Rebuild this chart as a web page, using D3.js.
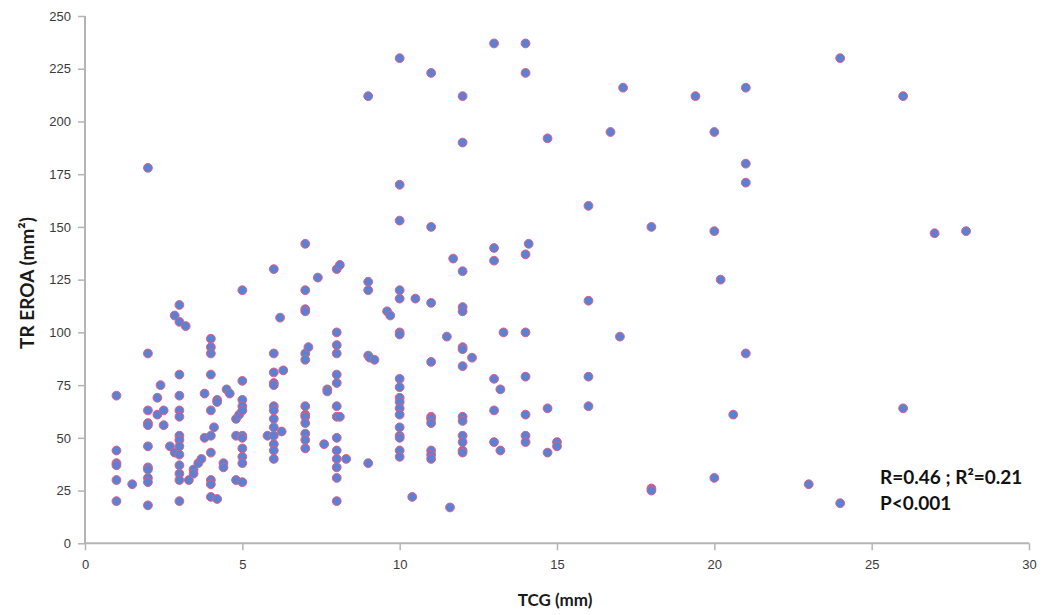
<!DOCTYPE html>
<html>
<head>
<meta charset="utf-8">
<script src="https://cdn.jsdelivr.net/npm/d3@7"></script>
<style>
  html, body { margin: 0; padding: 0; background: #fff; }
  svg { display: block; }
</style>
</head>
<body>
<svg id="chart" width="1042" height="615"></svg>
<script>
// TCG (mm) values
const tcg = [
  1,1,1,1,1,1,
  1.5,
  2,2,2,2,2,2,2,2,2,2,2,
  2.3,2.3,2.4,2.5,2.5,2.7,2.85,2.85,
  3,3,3,3,3,3,3,3,3,3,3,3,3,3,
  3.2,3.3,3.45,3.45,3.6,3.7,3.8,3.8,
  4,4,4,4,4,4,4,4,4,4,
  4.1,4.2,4.2,4.2,4.4,4.4,4.5,4.6,4.8,4.8,4.8,4.9,
  5,5,5,5,5,5,5,5,5,5,5,
  5.8,
  6,6,6,6,6,6,6,6,6,6,6,6,6,
  6.2,6.3,6.25,
  7,7,7,7,7,7,7,7,7,7,7,7,7,
  7.1,7.4,7.6,7.7,7.7,
  8,8,8,8,8,8,8,8,8,8,8,8,8,8,
  8.1,8.1,8.3,
  9,9,9,9,9,9.05,9.2,9.6,9.7,
  10,10,10,10,10,10,10,10,10,10,10,10,10,10,10,10,10,10,
  10.4,10.5,
  11,11,11,11,11,11,11,11,11,11,
  11.5,11.6,11.7,
  12,12,12,12,12,12,12,12,12,12,12,12,12,12,
  12.3,
  13,13,13,13,13,13,13.2,13.2,13.3,
  14,14,14,14,14,14,14,14,14.1,
  14.7,14.7,14.7,15,15,
  16,16,16,16,16.7,17,17.1,
  18,18,18,19.4,20,20,20,20.2,20.6,
  21,21,21,21,23,24,24,26,26,27,28
];
// TR EROA (mm²) values
const eroa = [
  70,44,38,37,30,20,
  28,
  178,90,63,57,56,46,36,35,31,29,18,
  69,61,75,63,56,46,108,43,
  113,105,80,70,63,60,51,49,46,42,37,33,30,20,
  103,30,35,33,38,40,71,50,
  97,93,90,80,63,51,43,30,28,22,
  55,68,67,21,38,36,73,71,59,51,30,61,
  120,77,68,65,63,51,50,45,41,38,29,
  51,
  130,90,81,76,75,65,63,59,55,51,47,44,40,
  107,82,53,
  142,120,111,110,90,87,65,61,60,57,52,49,45,
  93,126,47,73,72,
  130,100,94,90,80,76,65,60,50,44,40,36,31,20,
  132,60,40,
  212,124,120,89,38,88,87,110,108,
  230,170,153,120,116,100,99,78,74,69,67,64,61,55,51,50,44,41,
  22,116,
  223,150,114,86,60,59,57,44,42,40,
  98,17,135,
  212,190,129,112,110,93,92,84,60,58,51,48,44,43,
  88,
  237,140,134,78,63,48,73,44,100,
  237,223,137,100,79,61,51,48,142,
  192,64,43,48,46,
  160,115,79,65,195,98,216,
  150,26,25,212,195,148,31,125,61,
  216,180,171,90,28,230,19,212,64,147,148
];
const xTicks = [0, 5, 10, 15, 20, 25, 30];
const yTicks = [0, 25, 50, 75, 100, 125, 150, 175, 200, 225, 250];
const xTitle = "TCG (mm)";
const yTitle = "TR EROA (mm²)";
const statLines = ["R=0.46 ; R²=0.21", "P<0.001"];

const svg = d3.select("#chart");
const x = d3.scaleLinear().domain([0, 30]).range([85, 1029]);
const y = d3.scaleLinear().domain([0, 250]).range([543.3, 16]);

const axisColor = "#b4b4b4";
const tickFont = "'Liberation Sans', Arial, sans-serif";
const boldFont = "Lato, 'Open Sans', sans-serif";

// Y axis
const gy = svg.append("g").attr("transform", `translate(${x(0)},0)`)
  .call(d3.axisLeft(y).tickValues(yTicks).tickSize(7).tickPadding(7).tickFormat(d3.format("d")));
// X axis
const gx = svg.append("g").attr("transform", `translate(0,${y(0)})`)
  .call(d3.axisBottom(x).tickValues(xTicks).tickSize(7).tickPadding(9).tickFormat(d3.format("d")));

[gx, gy].forEach(g => {
  g.select(".domain").attr("stroke", axisColor).attr("stroke-width", 2);
  g.selectAll(".tick line").attr("stroke", axisColor).attr("stroke-width", 1.5);
  g.selectAll(".tick text").attr("fill", "#3a3a3a").style("font-family", tickFont).style("font-size", "13px");
});
gx.select(".domain").attr("d", `M${x(0)},0H${x(30)}`);
gy.select(".domain").attr("d", `M0,${y(250)}V${y(0)}`);

// Points
svg.append("g").selectAll("circle")
  .data(tcg.map((v, i) => [v, eroa[i]]))
  .join("circle")
  .attr("cx", d => x(d[0]))
  .attr("cy", d => y(d[1]))
  .attr("r", 4.4)
  .attr("fill", "#5b80d4")
  .attr("stroke", "#e0607e")
  .attr("stroke-width", 1);

// Axis titles
svg.append("text")
  .attr("x", 555).attr("y", 606)
  .attr("text-anchor", "middle")
  .style("font-family", boldFont).style("font-weight", "bold").style("font-size", "17px")
  .attr("fill", "#1a1a1a")
  .text(xTitle);

svg.append("text")
  .attr("transform", "translate(34,283) rotate(-90)")
  .attr("text-anchor", "middle")
  .style("font-family", boldFont).style("font-weight", "bold").style("font-size", "19px")
  .attr("fill", "#1a1a1a")
  .text(yTitle);

// Stats annotation
svg.append("g").selectAll("text")
  .data(statLines)
  .join("text")
  .attr("x", 880)
  .attr("y", (d, i) => 484 + i * 26)
  .style("font-family", boldFont).style("font-weight", "bold").style("font-size", "19px")
  .attr("fill", "#111")
  .text(d => d);
</script>
</body>
</html>
